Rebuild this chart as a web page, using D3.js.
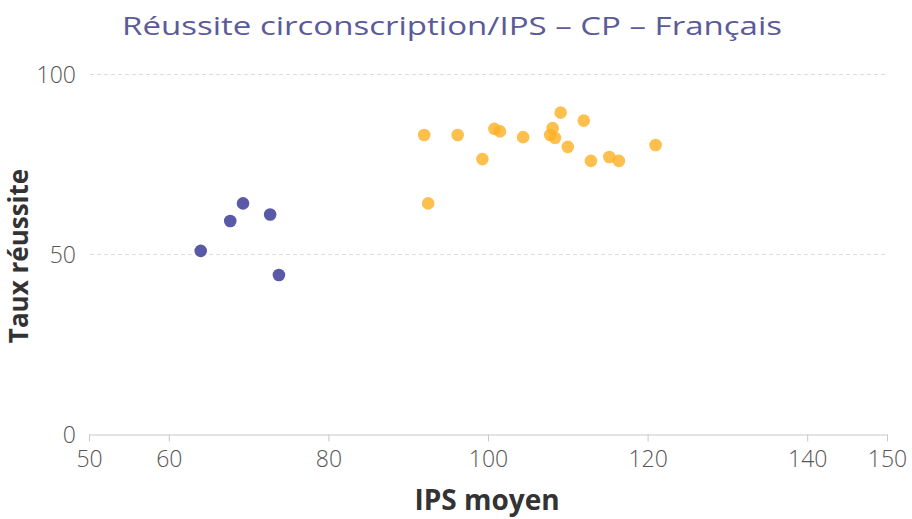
<!DOCTYPE html>
<html><head><meta charset="utf-8">
<script src="https://cdn.jsdelivr.net/npm/d3@7"></script>
<style>body{margin:0;background:#fff;} svg{display:block;}</style>
</head><body>
<script>
const title = "Réussite circonscription/IPS – CP – Français";
const xLabel = "IPS moyen";
const yLabel = "Taux réussite";
const xTicks = [50, 60, 80, 100, 120, 140, 150];
const yTicks = [0, 50, 100];
const blueIPS = [64.0, 67.7, 69.3, 72.7, 73.8];
const blueRate = [51.0, 59.3, 64.2, 61.1, 44.3];
const orangeIPS = [92.0, 92.5, 96.2, 99.3, 100.8, 101.5, 104.4, 108.1, 107.8, 108.4, 109.1, 110.0, 112.0, 112.9, 115.2, 116.4, 121.0];
const orangeRate = [83.2, 64.2, 83.2, 76.5, 84.9, 84.2, 82.6, 85.1, 83.2, 82.4, 89.4, 79.9, 87.2, 76.0, 77.1, 76.0, 80.4];

const W = 912, H = 519;
const svg = d3.select("body").append("svg").attr("width", W).attr("height", H);
const x = d3.scaleLinear().domain([50, 150]).range([89, 887]);
const y = d3.scaleLinear().domain([0, 100]).range([434.5, 74.5]);
const font = "'Open Sans', sans-serif";

svg.append("text").attr("x", 122).attr("y", 35)
  .attr("textLength", 660).attr("lengthAdjust", "spacingAndGlyphs")
  .attr("font-family", font).attr("font-size", 26).attr("fill", "#5b5b99").text(title);

// gridlines
svg.append("g").selectAll("line").data(yTicks.filter(d => d > 0)).join("line")
  .attr("x1", 90).attr("x2", 887).attr("y1", d => y(d)).attr("y2", d => y(d))
  .attr("stroke", "#dcdcdc").attr("stroke-width", 1).attr("stroke-dasharray", "4,3");

// y tick labels
svg.append("g").selectAll("text").data(yTicks).join("text")
  .attr("x", 76).attr("y", d => y(d) + 8.5).attr("text-anchor", "end")
  .attr("font-family", font).attr("font-weight", 300).attr("font-size", 23).attr("fill", "#555").text(d => d);

// x axis
const xAxis = svg.append("g").attr("transform", `translate(0,${y(0)})`)
  .call(d3.axisBottom(x).tickValues(xTicks).tickSize(7).tickSizeOuter(0).tickPadding(0));
xAxis.select(".domain").attr("stroke", "#c8c8c8");
xAxis.selectAll(".tick line").attr("stroke", "#c8c8c8");
xAxis.selectAll(".tick text").attr("dy", null).attr("y", 32.5)
  .attr("font-family", font).attr("font-weight", 300).attr("font-size", 23).attr("fill", "#555");

svg.append("text").attr("x", 487).attr("y", 510).attr("text-anchor", "middle")
  .attr("font-family", font).attr("font-weight", "bold").attr("font-size", 28).attr("fill", "#333").text(xLabel);
svg.append("text").attr("transform", "translate(28,256) rotate(-90)").attr("text-anchor", "middle")
  .attr("font-family", font).attr("font-weight", "bold").attr("font-size", 26).attr("fill", "#333").text(yLabel);

const blue = blueIPS.map((v, i) => [v, blueRate[i]]);
const orange = orangeIPS.map((v, i) => [v, orangeRate[i]]);
svg.append("g").selectAll("circle").data(blue).join("circle")
  .attr("cx", d => x(d[0])).attr("cy", d => y(d[1])).attr("r", 6.3)
  .attr("fill", "#3c3c98").attr("fill-opacity", 0.85);
svg.append("g").selectAll("circle").data(orange).join("circle")
  .attr("cx", d => x(d[0])).attr("cy", d => y(d[1])).attr("r", 6.3)
  .attr("fill", "#fdb023").attr("fill-opacity", 0.8);
</script>
</body></html>
